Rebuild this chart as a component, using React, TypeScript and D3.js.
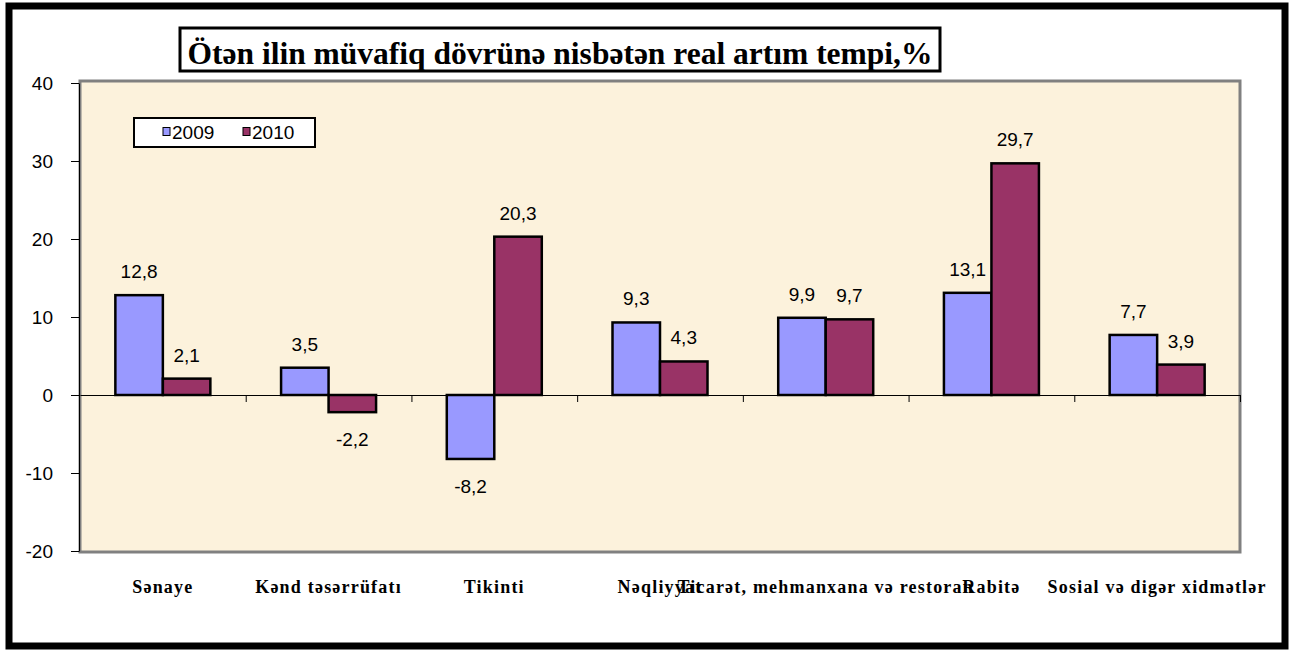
import React, { useEffect, useRef } from 'react';
import * as d3 from 'd3';

const WIDTH = 1298;
const HEIGHT = 651;

const PLOT = { left: 80, right: 1240, top: 81, bottom: 552 };

const categories = [
  'Sənaye',
  'Kənd təsərrüfatı',
  'Tikinti',
  'Nəqliyyat',
  'Ticarət, mehmanxana və restoran',
  'Rabitə',
  'Sosial və digər xidmətlər',
];
const seriesNames = ['2009', '2010'];
const values2009 = [12.8, 3.5, -8.2, 9.3, 9.9, 13.1, 7.7];
const values2010 = [2.1, -2.2, 20.3, 4.3, 9.7, 29.7, 3.9];
const yTicks = [-20, -10, 0, 10, 20, 30, 40];
const colors = ['#9999ff', '#993366'];

const TITLE = 'Ötən ilin müvafiq dövrünə nisbətən real artım tempi,%';

const SANS = '"Liberation Sans", Arial, sans-serif';
const SERIF = '"Liberation Serif", "Times New Roman", serif';

// comma decimals, plain hyphen for negatives
const fmt = (v: number) => v.toFixed(1).replace('.', ',');

export default function App() {
  const ref = useRef<SVGSVGElement>(null);

  useEffect(() => {
    const svg = d3.select(ref.current);
    svg.selectAll('*').remove();

    // outer frame
    svg.append('rect')
      .attr('x', 9).attr('y', 6)
      .attr('width', 1276).attr('height', 640)
      .attr('fill', '#fff')
      .attr('stroke', '#000')
      .attr('stroke-width', 7);

    const x = d3.scaleBand<string>()
      .domain(categories)
      .range([PLOT.left, PLOT.right]);

    const groupW = 95;
    const x1 = d3.scaleBand<string>()
      .domain(seriesNames)
      .range([(x.bandwidth() - groupW) / 2, (x.bandwidth() + groupW) / 2]);

    const y = d3.scaleLinear()
      .domain([-20, 40])
      .range([551, 83]);

    // plot area
    svg.append('rect')
      .attr('x', PLOT.left).attr('y', PLOT.top)
      .attr('width', PLOT.right - PLOT.left)
      .attr('height', PLOT.bottom - PLOT.top)
      .attr('fill', '#fcf2dc')
      .attr('stroke', '#808080')
      .attr('stroke-width', 3);

    // y axis
    svg.append('g')
      .attr('transform', `translate(${PLOT.left - 1}, 0)`)
      .call(d3.axisLeft(y)
        .tickValues(yTicks)
        .tickSize(8)
        .tickSizeOuter(0)
        .tickPadding(18)
        .tickFormat(d => String(d)))
      .call(g => g.select('.domain').attr('stroke', '#000'))
      .call(g => g.selectAll('text')
        .attr('font-family', SANS)
        .attr('font-size', 19)
        .attr('fill', '#000'));

    // bars
    const rows = categories.map((c, i) => ({
      cat: c,
      vals: [values2009[i], values2010[i]],
    }));

    const groups = svg.append('g')
      .selectAll('g')
      .data(rows)
      .join('g')
      .attr('transform', d => `translate(${x(d.cat)}, 0)`);

    groups.selectAll('rect')
      .data(d => d.vals.map((v, k) => ({ v, k })))
      .join('rect')
      .attr('x', d => x1(seriesNames[d.k])!)
      .attr('y', d => y(Math.max(0, d.v)))
      .attr('width', x1.bandwidth())
      .attr('height', d => Math.abs(y(d.v) - y(0)))
      .attr('fill', d => colors[d.k])
      .attr('stroke', '#000')
      .attr('stroke-width', 2.5);

    // x axis at zero with ticks between categories
    const xEdge = d3.scaleLinear()
      .domain([0, categories.length])
      .range([PLOT.left, PLOT.right]);

    svg.append('g')
      .attr('transform', `translate(0, ${y(0)})`)
      .call(d3.axisBottom(xEdge)
        .tickValues(categories.map((_, i) => i + 1))
        .tickSize(7)
        .tickSizeOuter(0)
        .tickFormat(() => ''))
      .call(g => g.selectAll('path, line').attr('stroke', '#000'));

    // value labels
    groups.selectAll('text')
      .data(d => d.vals.map((v, k) => ({ v, k })))
      .join('text')
      .attr('x', d => x1(seriesNames[d.k])! + x1.bandwidth() / 2)
      .attr('y', d => d.v >= 0 ? y(d.v) - 17 : y(d.v) + 34)
      .attr('text-anchor', 'middle')
      .attr('font-family', SANS)
      .attr('font-size', 19)
      .attr('fill', '#000')
      .text(d => fmt(d.v));

    // category labels
    svg.append('g')
      .selectAll('text')
      .data(categories)
      .join('text')
      .attr('x', d => x(d)! + x.bandwidth() / 2)
      .attr('y', 593)
      .attr('text-anchor', 'middle')
      .attr('font-family', SERIF)
      .attr('font-weight', 'bold')
      .attr('font-size', 18)
      .attr('letter-spacing', 1.2)
      .attr('fill', '#000')
      .text(d => d);

    // legend
    const legend = svg.append('g');
    legend.append('rect')
      .attr('x', 134).attr('y', 118)
      .attr('width', 181).attr('height', 29)
      .attr('fill', '#fff')
      .attr('stroke', '#000')
      .attr('stroke-width', 2);

    const legendX = [163, 243];
    seriesNames.forEach((s, k) => {
      legend.append('rect')
        .attr('x', legendX[k]).attr('y', 127.5)
        .attr('width', 7).attr('height', 8)
        .attr('fill', colors[k])
        .attr('stroke', '#000')
        .attr('stroke-width', 1);
      legend.append('text')
        .attr('x', legendX[k] + 9)
        .attr('y', 139)
        .attr('font-family', SANS)
        .attr('font-size', 19)
        .attr('fill', '#000')
        .text(s);
    });

    // title
    svg.append('rect')
      .attr('x', 180).attr('y', 28)
      .attr('width', 760).attr('height', 43)
      .attr('fill', '#fff')
      .attr('stroke', '#000')
      .attr('stroke-width', 3);

    svg.append('text')
      .attr('x', 560)
      .attr('y', 64)
      .attr('text-anchor', 'middle')
      .attr('font-family', SERIF)
      .attr('font-weight', 'bold')
      .attr('font-size', 32)
      .attr('textLength', 745)
      .attr('lengthAdjust', 'spacingAndGlyphs')
      .attr('fill', '#000')
      .text(TITLE);
  }, []);

  return (
    <svg
      ref={ref}
      width={WIDTH}
      height={HEIGHT}
      viewBox={`0 0 ${WIDTH} ${HEIGHT}`}
      style={{ position: 'absolute', left: 0, top: 0, background: '#fff' }}
    />
  );
}
